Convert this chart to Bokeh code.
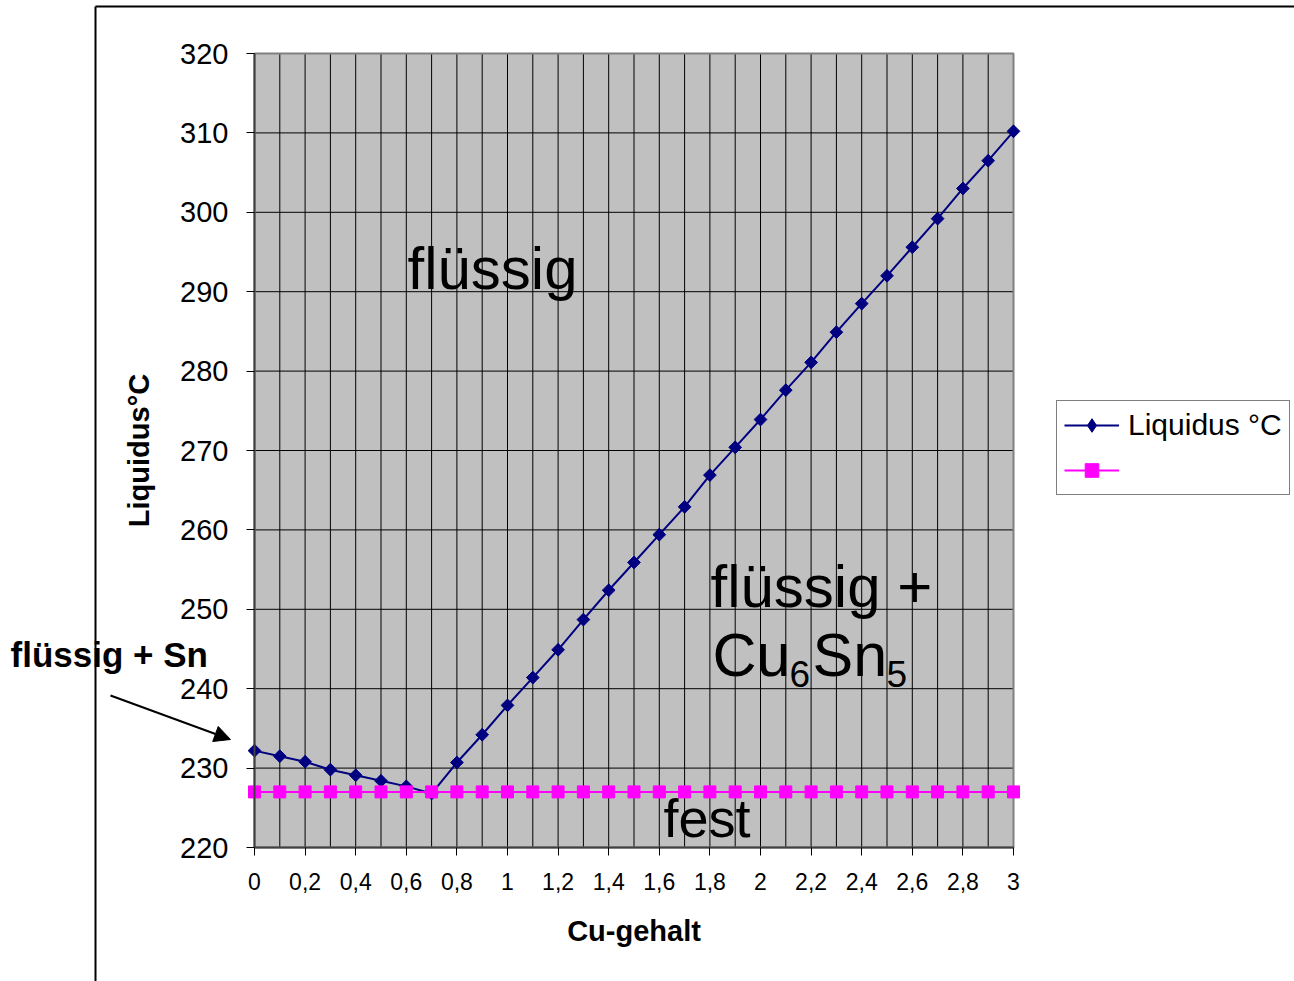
from bokeh.plotting import figure
from bokeh.models import (Range1d, FixedTicker, CustomJSTickFormatter, Label, Arrow,
                          NormalHead, Legend, LegendItem)
from bokeh.embed import file_html
from bokeh.resources import INLINE

# ---------------- data ----------------
cu = [0.0, 0.1, 0.2, 0.3, 0.4, 0.5, 0.6, 0.7, 0.8, 0.9,
      1.0, 1.1, 1.2, 1.3, 1.4, 1.5, 1.6, 1.7, 1.8, 1.9,
      2.0, 2.1, 2.2, 2.3, 2.4, 2.5, 2.6, 2.7, 2.8, 2.9, 3.0]
liquidus = [232.2, 231.5, 230.8, 229.8, 229.1, 228.4, 227.7, 226.8, 230.7, 234.2,
            237.9, 241.4, 244.9, 248.7, 252.4, 255.9, 259.4, 262.9, 266.9, 270.4,
            273.9, 277.6, 281.1, 284.9, 288.5, 292.0, 295.6, 299.2, 303.0, 306.5, 310.2]
solidus = [227.0] * 31

x_ticks = [0.0, 0.2, 0.4, 0.6, 0.8, 1.0, 1.2, 1.4, 1.6, 1.8, 2.0, 2.2, 2.4, 2.6, 2.8, 3.0]
x_tick_labels = ["0", "0,2", "0,4", "0,6", "0,8", "1", "1,2", "1,4", "1,6", "1,8",
                 "2", "2,2", "2,4", "2,6", "2,8", "3"]
x_minor = [0.1, 0.3, 0.5, 0.7, 0.9, 1.1, 1.3, 1.5, 1.7, 1.9, 2.1, 2.3, 2.5, 2.7, 2.9]
y_ticks = [220, 230, 240, 250, 260, 270, 280, 290, 300, 310, 320]

series_names = ["Liquidus °C", ""]
x_title = "Cu-gehalt"
y_title = "Liquidus°C"

FONT = "Liberation Sans"

# plot-area geometry (pixels in the 1294 x 981 canvas)
W, H = 1294, 981
PL, PR, PT, PB = 254, 1013, 53, 847
XMIN, XMAX = x_ticks[0], x_ticks[-1]
YMIN, YMAX = y_ticks[0], y_ticks[-1]
sx = (PR - PL) / (XMAX - XMIN)
sy = (PB - PT) / (YMAX - YMIN)


def dx(px):
    return XMIN + (px - PL) / sx


def dy(py):
    return YMIN + (PB - py) / sy


p = figure(width=W, height=H, title=None,
           x_range=Range1d(dx(0), dx(W)), y_range=Range1d(dy(H), dy(0)),
           output_backend="svg", toolbar_location=None,
           min_border_left=0, min_border_right=0, min_border_top=0, min_border_bottom=0)
p.background_fill_color = "white"
p.border_fill_color = "white"
p.outline_line_color = None
p.xgrid.visible = False
p.ygrid.visible = False

# plot area
p.quad(left=[XMIN], right=[XMAX], bottom=[YMIN], top=[YMAX],
       fill_color="#C0C0C0", line_color=None)
# grid lines at the tick positions
gx = x_ticks + x_minor
p.segment(x0=gx, y0=[YMIN] * len(gx), x1=gx, y1=[YMAX] * len(gx),
          line_color="black", line_width=1)
p.segment(x0=[XMIN] * len(y_ticks), y0=y_ticks, x1=[XMAX] * len(y_ticks), y1=y_ticks,
          line_color="black", line_width=1)
p.quad(left=[XMIN], right=[XMAX], bottom=[YMIN], top=[YMAX],
       fill_color=None, line_color="#808080", line_width=2)

# axes pinned to the plot area
xt = FixedTicker(ticks=x_ticks, minor_ticks=x_minor)
p.xaxis.ticker = xt
p.xaxis.formatter = CustomJSTickFormatter(args=dict(tvals=x_ticks, tlabels=x_tick_labels), code="""
    for (let i = 0; i < tvals.length; i++) {
        if (Math.abs(tvals[i] - tick) < 1e-9) return tlabels[i];
    }
    return '';
""")
p.yaxis.ticker = FixedTicker(ticks=y_ticks)
p.xaxis.fixed_location = YMIN
p.yaxis.fixed_location = XMIN
p.xaxis.bounds = (XMIN, XMAX)
p.yaxis.bounds = (YMIN, YMAX)

for ax in (p.xaxis, p.yaxis):
    ax.axis_line_color = "#404040"
    ax.axis_line_width = 2
    ax.major_tick_line_color = "black"
    ax.major_tick_out = 8
    ax.major_tick_in = 0
    ax.minor_tick_line_color = None
    ax.major_label_text_font = FONT
    ax.major_label_text_color = "black"
    ax.axis_label_text_font = FONT
    ax.axis_label_text_font_style = "bold"
    ax.axis_label_text_color = "black"
    ax.axis_label_text_font_size = "29px"

p.xaxis.major_label_text_font_size = "23px"
p.yaxis.major_label_text_font_size = "29px"
p.xaxis.major_label_standoff = 17
p.yaxis.major_label_standoff = 18
p.xaxis.axis_label = x_title
p.yaxis.axis_label = y_title
p.xaxis.axis_label_standoff = 22
p.yaxis.axis_label_standoff = 22

# series
l1 = p.line(cu, liquidus, line_color="#000080", line_width=2)
d1 = p.scatter(cu, liquidus, marker="diamond", size=12,
               fill_color="#000080", line_color="#000080")
s1 = p.scatter(cu, liquidus, marker="square", angle=0.785398, size=9,
               fill_color="#000080", line_color="#000080")
l2 = p.line(cu, solidus, line_color="#FF00FF", line_width=2)
s2 = p.scatter(cu, solidus, marker="square", size=12,
               fill_color="#FF00FF", line_color="#FF00FF")

legend = Legend(items=[LegendItem(label=series_names[0], renderers=[l1, d1]),
                       LegendItem(label=series_names[1], renderers=[l2, s2])],
                location=(1056, H - 495))
legend.label_text_font = FONT
legend.label_text_font_size = "30px"
legend.label_text_color = "black"
legend.glyph_width = 55
legend.glyph_height = 34
legend.label_height = 34
legend.label_standoff = 9
legend.padding = 7
legend.spacing = 11
legend.margin = 0
legend.border_line_color = "black"
legend.border_line_width = 1
legend.background_fill_color = "white"
legend.background_fill_alpha = 1
p.add_layout(legend, "center")


# region labels (x in data units, y = baseline in data units)
def lab(x, y, text, size, style="normal"):
    p.add_layout(Label(x=x, y=y + 0.37 * size / sy, text=text, text_font=FONT,
                       text_font_size=f"{size}px", text_font_style=style,
                       text_color="black", text_baseline="alphabetic", text_align="left"))


lab(dx(407), dy(290), "flüssig", 60)
lab(dx(710), dy(608), "flüssig +", 60)
lab(dx(712), dy(677), "Cu", 61)
lab(dx(789), dy(687), "6", 37)
lab(dx(812), dy(677), "Sn", 61)
lab(dx(886), dy(687), "5", 37)
lab(dx(663), dy(837), "fest", 54)
lab(dx(10), dy(667), "flüssig + Sn", 35, "bold")

p.add_layout(Arrow(x_start=dx(110), y_start=dy(695), x_end=dx(230), y_end=dy(739),
                   line_color="black", line_width=2,
                   end=NormalHead(size=16, fill_color="black", line_color="black")))

# outer chart border (left and top edges)
p.segment(x0=[dx(95), dx(95)], y0=[dy(H), dy(6)], x1=[dx(95), dx(W)], y1=[dy(6), dy(6)],
          line_color="black", line_width=2)

open("out.html", "w").write(file_html(p, INLINE))
